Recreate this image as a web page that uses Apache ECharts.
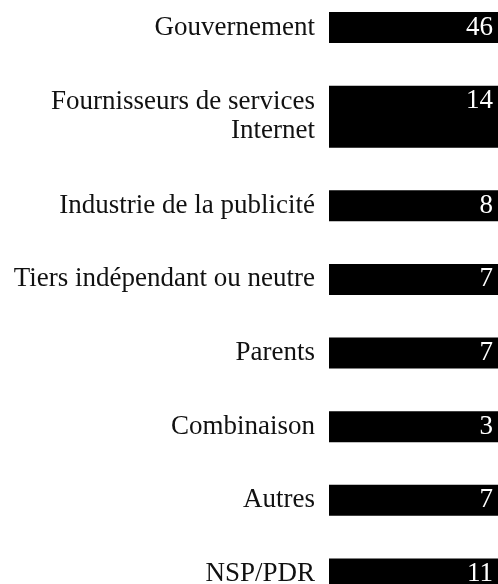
<!DOCTYPE html>
<html>
<head>
<meta charset="utf-8">
<title>Répartition</title>
<script src="https://cdn.jsdelivr.net/npm/echarts@6/dist/echarts.min.js"></script>
<style>
    html, body { margin: 0; padding: 0; background: #fff; }
    #main { width: 498px; height: 584px; }
</style>
</head>
<body>
<div id="main"></div>
<script>
// catégories (une ligne par boîte, "\n" = libellé sur deux lignes)
var categories = [
    'Gouvernement',
    'Fournisseurs de services\nInternet',
    'Industrie de la publicité',
    'Tiers indépendant ou neutre',
    'Parents',
    'Combinaison',
    'Autres',
    'NSP/PDR'
];
var counts = [46, 14, 8, 7, 7, 3, 7, 11];  // nombre de réponses

var LINE_PX = 31;       // hauteur d'une ligne de boîte
var GAP = 1.375;        // espace entre les boîtes, en lignes
var TOP = 12;
var FONT = '27px "Liberation Serif", "Times New Roman", serif';

// position de chaque boîte sur l'axe y (en lignes)
var lineCount = categories.map(function (c) { return c.split('\n').length; });
var rowTops = [];
var acc = 0;
lineCount.forEach(function (n) {
    rowTops.push(acc);
    acc += n + GAP;
});
// la dernière boîte est coupée par le bas de l'image
var yMax = (584 - TOP) / LINE_PX;

var boxData = categories.map(function (c, i) {
    return [rowTops[i], lineCount[i], counts[i]];
});

function renderBox(params, api) {
    var top = api.value(0);
    var n = api.value(1);
    var p0 = api.coord([0, top]);
    var p1 = api.coord([1, top + n]);
    var unit = api.size([0, 1])[1];
    return {
        type: 'group',
        children: [
            {
                type: 'rect',
                shape: { x: p0[0], y: p0[1], width: p1[0] - p0[0], height: p1[1] - p0[1] },
                style: { fill: '#000' }
            },
            {
                type: 'text',
                x: p0[0] - 14,
                y: (p0[1] + p1[1]) / 2,
                style: {
                    text: categories[params.dataIndex],
                    font: FONT,
                    fill: '#111',
                    align: 'right',
                    verticalAlign: 'middle',
                    lineHeight: 29
                }
            },
            {
                type: 'text',
                x: p1[0] - 5,
                y: p0[1] + unit / 2,
                style: {
                    text: String(api.value(2)),
                    font: FONT,
                    fill: '#fff',
                    align: 'right',
                    verticalAlign: 'middle'
                }
            }
        ]
    };
}

var myChart = echarts.init(document.getElementById('main'), null, { renderer: 'canvas' });
myChart.setOption({
    animation: false,
    backgroundColor: '#fff',
    grid: {
        left: 329,
        right: 0,
        top: TOP,
        bottom: 0
    },
    xAxis: { type: 'value', min: 0, max: 1, show: false },
    yAxis: { type: 'value', min: 0, max: yMax, inverse: true, show: false },
    series: [{
        type: 'custom',
        renderItem: renderBox,
        clip: false,
        data: boxData
    }]
});
window.onresize = myChart.resize;
</script>
</body>
</html>
